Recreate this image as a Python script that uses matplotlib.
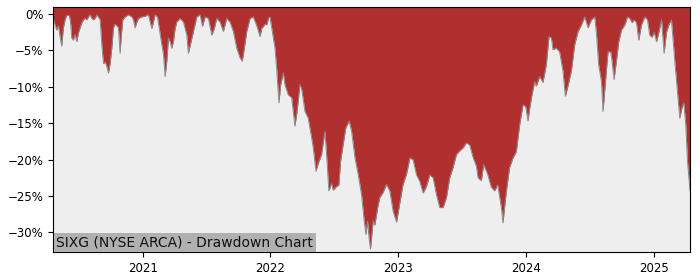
import numpy as np
import pandas as pd
import matplotlib
matplotlib.use("Agg")
import matplotlib.pyplot as plt
from matplotlib.ticker import FuncFormatter, MultipleLocator
import matplotlib.dates as mdates

title = "SIXG (NYSE ARCA) - Drawdown Chart"

# dates as decimal years
years = [
    2020.300, 2020.316, 2020.329, 2020.342, 2020.355, 2020.368, 2020.381, 2020.394,
    2020.407, 2020.428, 2020.439, 2020.446, 2020.459, 2020.472, 2020.486, 2020.498,
    2020.511, 2020.525, 2020.537, 2020.550, 2020.564, 2020.576, 2020.590, 2020.603,
    2020.615, 2020.629, 2020.642, 2020.654, 2020.668, 2020.681, 2020.694, 2020.707,
    2020.720, 2020.733, 2020.746, 2020.759, 2020.772, 2020.785, 2020.798, 2020.811,
    2020.824, 2020.832, 2020.845, 2020.863, 2020.889, 2020.916, 2020.928, 2020.941,
    2020.955, 2020.967, 2020.994, 2021.020, 2021.045, 2021.072, 2021.084, 2021.098,
    2021.116, 2021.150, 2021.163, 2021.176, 2021.189, 2021.202, 2021.215, 2021.228,
    2021.241, 2021.254, 2021.267, 2021.293, 2021.319, 2021.346, 2021.358, 2021.379,
    2021.397, 2021.424, 2021.450, 2021.468, 2021.489, 2021.515, 2021.541, 2021.561,
    2021.580, 2021.606, 2021.632, 2021.658, 2021.684, 2021.710, 2021.737, 2021.762,
    2021.780, 2021.796, 2021.815, 2021.841, 2021.866, 2021.893, 2021.919, 2021.932,
    2021.958, 2021.971, 2021.987, 2021.997, 2022.023, 2022.036, 2022.049, 2022.067,
    2022.081, 2022.101, 2022.114, 2022.140, 2022.167, 2022.192, 2022.206, 2022.218,
    2022.231, 2022.245, 2022.271, 2022.296, 2022.323, 2022.335, 2022.357, 2022.375,
    2022.401, 2022.427, 2022.440, 2022.458, 2022.479, 2022.492, 2022.518, 2022.536,
    2022.550, 2022.570, 2022.591, 2022.617, 2022.636, 2022.662, 2022.687, 2022.714,
    2022.732, 2022.748, 2022.761, 2022.773, 2022.784, 2022.805, 2022.818, 2022.841,
    2022.857, 2022.883, 2022.909, 2022.935, 2022.961, 2022.988, 2023.013, 2023.039,
    2023.066, 2023.092, 2023.117, 2023.144, 2023.170, 2023.196, 2023.222, 2023.248,
    2023.274, 2023.300, 2023.326, 2023.352, 2023.379, 2023.404, 2023.430, 2023.457,
    2023.483, 2023.508, 2023.535, 2023.561, 2023.587, 2023.613, 2023.626, 2023.652,
    2023.670, 2023.701, 2023.730, 2023.756, 2023.780, 2023.809, 2023.821, 2023.848,
    2023.873, 2023.899, 2023.926, 2023.952, 2023.978, 2023.999, 2024.017, 2024.030,
    2024.043, 2024.069, 2024.082, 2024.108, 2024.134, 2024.160, 2024.181, 2024.200,
    2024.212, 2024.239, 2024.264, 2024.290, 2024.309, 2024.329, 2024.356, 2024.382,
    2024.408, 2024.434, 2024.460, 2024.486, 2024.512, 2024.538, 2024.551, 2024.569,
    2024.591, 2024.603, 2024.622, 2024.642, 2024.663, 2024.673, 2024.689, 2024.708,
    2024.726, 2024.747, 2024.773, 2024.794, 2024.812, 2024.830, 2024.845, 2024.864,
    2024.882, 2024.903, 2024.929, 2024.950, 2024.968, 2024.986, 2025.002, 2025.021,
    2025.039, 2025.060, 2025.080, 2025.099, 2025.119, 2025.138, 2025.164, 2025.189,
    2025.203, 2025.218, 2025.234, 2025.250, 2025.263, 2025.283,
]

# drawdown in percent
drawdown = [
    -0.5, -1.5, -2.2, -1.6, -3.1, -4.4, -1.9, -0.8,
    -0.2, -0.2, -1.5, -3.3, -3.6, -2.8, -3.8, -2.6,
    -1.9, -1.2, -0.8, -0.6, -0.8, -0.4, -0.1, -0.6,
    -0.8, -0.6, -0.1, -0.4, -0.8, -4.2, -6.8, -6.6,
    -7.2, -8.1, -6.8, -4.7, -1.9, -1.4, -1.6, -1.9,
    -5.4, -3.2, -0.8, -0.4, -0.1, -0.4, -0.8, -1.9,
    -1.1, -0.6, -0.4, -0.3, -0.1, -2.0, -1.1, -0.1,
    -0.4, -4.2, -5.5, -8.6, -6.5, -3.3, -3.8, -4.7,
    -3.8, -2.0, -1.1, -0.6, -1.1, -2.9, -5.4, -3.8,
    -2.4, -0.4, -0.1, -1.7, -0.4, -0.6, -2.9, -2.0,
    -0.6, -1.1, -2.4, -0.6, -1.1, -2.4, -4.7, -6.0,
    -6.5, -4.7, -2.4, -0.6, -0.4, -1.6, -3.1, -2.0,
    -1.4, -1.5, -0.5, -0.4, -3.3, -4.7, -7.4, -12.2,
    -9.7, -8.1, -9.7, -11.1, -11.5, -15.4, -13.8, -12.0,
    -9.7, -10.3, -13.4, -14.3, -17.0, -18.3, -21.6, -20.5,
    -19.3, -16.1, -19.3, -24.3, -23.3, -24.2, -23.7, -23.5,
    -20.2, -17.9, -15.6, -14.7, -16.1, -19.7, -22.0, -24.8,
    -28.0, -30.3, -28.5, -30.8, -32.3, -28.4, -29.0, -26.5,
    -25.2, -24.5, -23.4, -24.3, -27.1, -28.6, -26.0, -23.4,
    -22.0, -19.8, -20.0, -22.1, -23.0, -24.6, -23.7, -22.1,
    -22.5, -24.8, -26.6, -26.6, -25.2, -22.5, -21.1, -19.3,
    -18.8, -18.4, -17.7, -18.0, -19.7, -20.9, -22.5, -22.9,
    -20.7, -22.0, -23.8, -24.3, -23.5, -26.6, -28.7, -24.3,
    -21.1, -19.8, -18.9, -15.2, -12.5, -12.7, -14.7, -13.0,
    -11.6, -9.3, -9.9, -8.6, -9.4, -7.0, -3.1, -3.3,
    -4.9, -4.7, -5.2, -7.8, -11.3, -9.9, -7.8, -4.2,
    -2.4, -1.5, -0.4, -1.9, -0.8, -0.4, -2.5, -7.0,
    -9.3, -13.4, -9.3, -5.2, -5.2, -6.4, -9.0, -6.4,
    -3.8, -2.2, -1.5, -0.4, -0.6, -1.2, -0.8, -1.2,
    -3.6, -1.5, -0.4, -0.8, -2.9, -3.2, -2.5, -3.8,
    -2.5, -0.8, -5.4, -2.5, -1.4, -0.8, -6.5, -11.6,
    -14.3, -13.0, -12.2, -15.2, -20.2, -24.3,
]

y_ticks = [0, -5, -10, -15, -20, -25, -30]


def year_to_date(y):
    start = pd.Timestamp(int(y), 1, 1)
    end = pd.Timestamp(int(y) + 1, 1, 1)
    return start + (end - start) * (y - int(y))


dates = [year_to_date(y) for y in years]
top = 0.96

fig = plt.figure(figsize=(7, 2.8), dpi=100)
ax = fig.add_axes([0.0757, 0.1, 0.91, 0.875])
ax.set_facecolor("#eeeeee")

ax.fill_between(dates, drawdown, top, color="#b03030", lw=0)
ax.plot(dates, drawdown, color="#8a8a8a", lw=0.7)

ax.set_xlim(dates[0], dates[-1])
ax.set_ylim(-32.7, top)
ax.set_yticks(y_ticks)
ax.yaxis.set_major_formatter(FuncFormatter(lambda v, p: ("%d%%" % v).replace("-", "\u2212")))
ax.xaxis.set_major_locator(mdates.YearLocator())
ax.xaxis.set_major_formatter(mdates.DateFormatter("%Y"))
ax.tick_params(labelsize=8.5)

ax.text(0.005, 0.012, title, transform=ax.transAxes, fontsize=10, color="#111111",
        ha="left", va="bottom",
        bbox=dict(facecolor="#b0b0b0", edgecolor="none", boxstyle="square,pad=0.18"))

fig.savefig("out.png", dpi=100)
